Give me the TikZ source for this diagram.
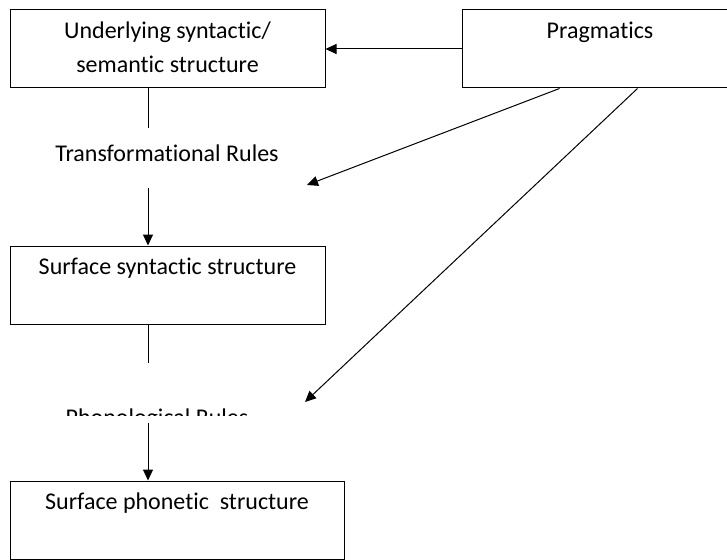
\documentclass[tikz,border=0pt]{standalone}
\usepackage{fontspec}
\setmainfont{Carlito}[Ligatures=NoCommon]
\usetikzlibrary{arrows.meta, positioning}
\begin{document}
\begin{tikzpicture}[x=1pt,y=-1pt,line width=1pt,>={Triangle[length=11pt,width=10pt]},
      font=\fontsize{24}{34}\selectfont, every node/.style={inner sep=0pt},
      box/.style={draw,minimum height=78pt,align=center}]
      \useasboundingbox (0,0) rectangle (727,559);
      \clip (0,0) rectangle (727,559);
      \node[box, minimum width=315pt] (under)    at (167.5,49) {\strut Underlying syntactic/\\\strut semantic structure};
      \node[box, minimum width=276pt] (prag)     at (600,49)   {\strut Pragmatics\\\strut};
      \node[box, minimum width=315pt] (surfsyn)  at (167.5,285) {\strut Surface syntactic structure\\\strut};
      \node[box, minimum width=334pt] (surfphon) at (177,520)  {\strut Surface phonetic\ \ structure\\\strut};
      \node (trans) at (167,153) {Transformational Rules};
      \begin{scope}
        \clip (0,0) rectangle (727,415);
        \node[anchor=base] (phon) at (157,425) {Phonological Rules};
      \end{scope}
      % gaps round the rule labels
      \coordinate (t1) at (148,128); \coordinate (t2) at (148,188);
      \coordinate (p1) at (148,363); \coordinate (p2) at (148,423);
      \coordinate (d1) at (307,185); \coordinate (d2) at (305,402);
      \draw (under.south -| t1) -- (t1);
      \draw (surfsyn.south -| p1) -- (p1);
      \path[->]
      (t2) edge (surfsyn.north -| t2)
      (p2) edge (surfphon.north -| p2)
      (prag.west) edge (under.east)
      ([xshift=98pt]prag.south west) edge (d1)
      ([xshift=176pt]prag.south west) edge (d2);
    \end{tikzpicture}
\end{document}
